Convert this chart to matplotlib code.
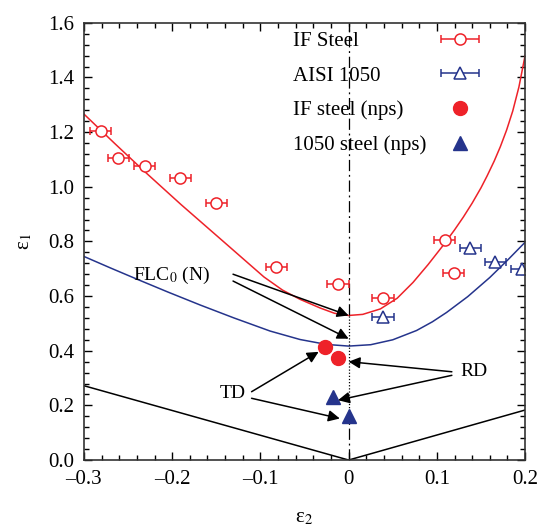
import numpy as np
import matplotlib.pyplot as plt
from matplotlib.ticker import MultipleLocator, FuncFormatter
from matplotlib.container import ErrorbarContainer
from matplotlib.legend_handler import HandlerErrorbar

plt.rcParams['font.family'] = ['Liberation Serif', 'DejaVu Serif']
plt.rcParams['mathtext.fontset'] = 'stix'

# measured points (IF steel, AISI 1050) with horizontal error bars
if_x = [-0.281, -0.261, -0.231, -0.191, -0.150, -0.082, -0.012, 0.039, 0.109, 0.119]
if_y = [1.205, 1.104, 1.075, 1.032, 0.942, 0.706, 0.643, 0.594, 0.804, 0.686]
if_err = [0.012] * len(if_x)

aisi_x = [0.039, 0.138, 0.166, 0.196]
aisi_y = [0.524, 0.777, 0.726, 0.700]
aisi_err = [0.012] * len(aisi_x)

# nps predictions
if_nps_x = [-0.027, -0.012]
if_nps_y = [0.414, 0.374]
aisi_nps_x = [-0.018, 0.0]
aisi_nps_y = [0.231, 0.161]

legend_labels = ['IF Steel', 'AISI 1050', 'IF steel (nps)', '1050 steel (nps)']

# fitted FLC curves
red_x = [-0.30, -0.265, -0.232, -0.19, -0.141, -0.096, -0.075, -0.055, -0.032, -0.016, 0.0,
         0.016, 0.036, 0.055, 0.073, 0.090, 0.107, 0.12, 0.13, 0.14, 0.15,
         0.157, 0.165, 0.172, 0.179, 0.186, 0.193, 0.20]
red_y = [1.266, 1.158, 1.058, 0.935, 0.797, 0.670, 0.622, 0.588, 0.556, 0.537, 0.529,
         0.533, 0.553, 0.592, 0.650, 0.715, 0.785, 0.842, 0.889, 0.94, 0.996,
         1.04, 1.094, 1.147, 1.207, 1.277, 1.365, 1.48]
blue_x = [-0.30, -0.27, -0.24, -0.205, -0.168, -0.13, -0.089, -0.055, -0.025, 0.0,
          0.025, 0.05, 0.077, 0.095, 0.111, 0.135, 0.16, 0.18, 0.20]
blue_y = [0.745, 0.703, 0.662, 0.615, 0.567, 0.520, 0.472, 0.441, 0.423, 0.417,
          0.422, 0.440, 0.474, 0.506, 0.540, 0.598, 0.668, 0.731, 0.797]

# straight black lines
line_x = [-0.3, 0.0, 0.2]
line_y = [0.272, 0.0, 0.183]

red = '#ee2229'
blue = '#25348c'

fig = plt.figure(figsize=(5.38, 5.30), dpi=100)
ax = fig.add_axes([0.156, 0.132, 0.820, 0.825])

ax.plot(line_x, line_y, color='k', lw=1.1)
ax.plot(red_x, red_y, color=red, lw=1.1)
ax.plot(blue_x, blue_y, color=blue, lw=1.1)

# vertical line at eps2 = 0
ax.plot([0, 0], [0.53, 1.6], color='k', lw=0.9, ls=(0, (9, 3, 1.5, 3)))
ax.plot([0, 0], [0.17, 0.53], color='k', lw=0.9, ls=(0, (1, 1.5)))
ax.plot([0, 0], [0.0, 0.17], color='k', lw=0.9, ls=(0, (9, 3, 1.5, 3)))

h1 = ax.errorbar(if_x, if_y, xerr=if_err, fmt='o', mfc='white', mec=red, color=red,
                 ms=8, mew=1.1, elinewidth=1.1, capsize=3)
h2 = ax.errorbar(aisi_x, aisi_y, xerr=aisi_err, fmt='^', mfc='white', mec=blue, color=blue,
                 ms=8, mew=1.1, elinewidth=1.1, capsize=3)
h3, = ax.plot(if_nps_x, if_nps_y, 'o', color=red, ms=10, ls='none')
h4, = ax.plot(aisi_nps_x, aisi_nps_y, '^', color=blue, ms=10, ls='none')

arrow = dict(arrowstyle='-|>', color='k', lw=1.1, mutation_scale=17, shrinkA=0, shrinkB=0)
ax.text(-0.201, 0.675, 'FLC$_0$ (N)', fontsize=14, ha='center', va='center')
ax.annotate('', xy=(0.0, 0.529), xytext=(-0.131, 0.68), arrowprops=arrow)
ax.annotate('', xy=(0.0, 0.444), xytext=(-0.131, 0.655), arrowprops=arrow)
ax.text(-0.131, 0.245, 'TD', fontsize=14, ha='center', va='center')
ax.annotate('', xy=(-0.034, 0.396), xytext=(-0.110, 0.250), arrowprops=arrow)
ax.annotate('', xy=(-0.010, 0.152), xytext=(-0.110, 0.226), arrowprops=arrow)
ax.text(0.142, 0.323, 'RD', fontsize=14, ha='center', va='center')
ax.annotate('', xy=(0.0, 0.36), xytext=(0.117, 0.323), arrowprops=arrow)
ax.annotate('', xy=(-0.012, 0.219), xytext=(0.117, 0.31), arrowprops=arrow)

ax.set_xlim(-0.3, 0.2)
ax.set_ylim(0.0, 1.6)
ax.xaxis.set_major_locator(MultipleLocator(0.1))
ax.xaxis.set_minor_locator(MultipleLocator(0.02))
ax.yaxis.set_major_locator(MultipleLocator(0.2))
ax.yaxis.set_minor_locator(MultipleLocator(0.04))


def xfmt(v, pos):
    if abs(v) < 1e-9:
        return '0'
    return ('%.1f' % v).replace('-', '\u2013')


ax.xaxis.set_major_formatter(FuncFormatter(xfmt))
ax.yaxis.set_major_formatter(FuncFormatter(lambda v, p: '%.1f' % v))
ax.tick_params(which='both', direction='in', top=True, right=True, labelsize=15, width=1)
ax.tick_params(which='major', length=6, pad=7)
ax.tick_params(which='minor', length=3.5)
for s in ax.spines.values():
    s.set_linewidth(1.2)
    s.set_color('#333333')

ax.set_xlabel('ε$_2$', fontsize=15, labelpad=14)
ax.set_ylabel('ε$_1$', fontsize=15, labelpad=10)

# legend: handles only, labels written left-aligned on the same baselines
leg = ax.legend([h1, h2, h3, h4], [' '] * 4, loc='upper left', bbox_to_anchor=(0.767, 1.018),
                frameon=False, fontsize=15, handlelength=2.0, handletextpad=0.0,
                labelspacing=0.72, borderpad=0.3,
                handler_map={ErrorbarContainer: HandlerErrorbar(xerr_size=0.9)})
fig.canvas.draw()
inv = ax.transAxes.inverted()
for t, lab in zip(leg.get_texts(), legend_labels):
    px = t.get_transform().transform(t.get_position())
    yb = inv.transform(px)[1]
    ax.annotate(lab, xy=(0.474, yb), xycoords='axes fraction', fontsize=15,
                ha='left', va='baseline')

fig.savefig('out.png', dpi=100)
